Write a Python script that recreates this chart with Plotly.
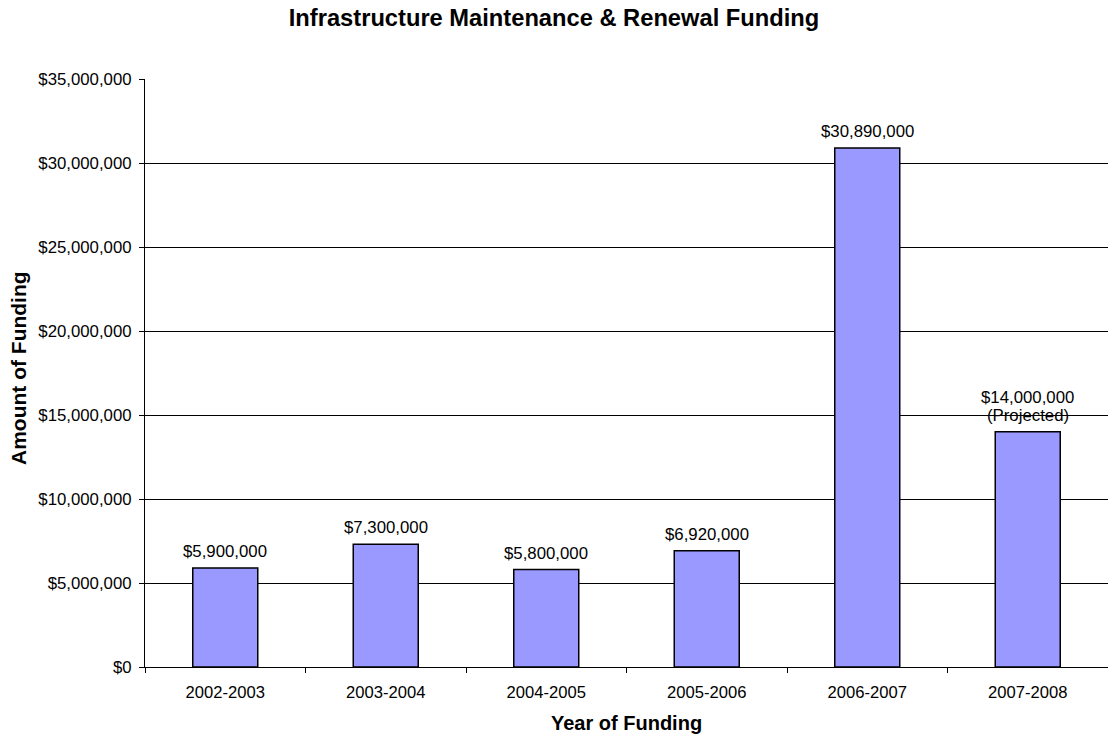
import plotly.graph_objects as go

years = ["2002-2003", "2003-2004", "2004-2005", "2005-2006", "2006-2007", "2007-2008"]
funding = [5900000, 7300000, 5800000, 6920000, 30890000, 14000000]
labels = ["$5,900,000", "$7,300,000", "$5,800,000", "$6,920,000", "$30,890,000", "$14,000,000<br>(Projected)"]
y_ticks = [0, 5000000, 10000000, 15000000, 20000000, 25000000, 30000000, 35000000]
y_tick_text = ["$0", "$5,000,000", "$10,000,000", "$15,000,000", "$20,000,000", "$25,000,000", "$30,000,000", "$35,000,000"]

font = "Liberation Sans, Arial, sans-serif"
W, H = 1108, 738
L, R, T, B = 145, 0, 79, 71
pw, ph = W - L - R, H - T - B

fig = go.Figure(go.Bar(
    x=years, y=funding,
    marker=dict(color="#9999FF", line=dict(color="black", width=1.5)),
    cliponaxis=False, hoverinfo="x+y",
))

annotations = []
for xv, yv, lab in zip(years, funding, labels):
    lines = lab.split("<br>")
    for i, line in enumerate(reversed(lines)):
        annotations.append(dict(
            text=line, x=xv, y=yv, xref="x", yref="y",
            xanchor="center", yanchor="bottom", yshift=5 + 18 * i,
            showarrow=False, font=dict(family=font, size=16.8, color="black")))

annotations += [
    dict(text="<b>Year of Funding</b>", xref="paper", yref="paper",
         x=0.5, y=-(723 - (H - B)) / ph, xanchor="center", yanchor="middle",
         showarrow=False, font=dict(family=font, size=20, color="black")),
    dict(text="<b>Amount of Funding</b>", xref="paper", yref="paper",
         x=(18 - L) / pw, y=(H - B - 368) / ph, xanchor="center", yanchor="middle",
         textangle=-90, showarrow=False,
         font=dict(family=font, size=21, color="black")),
]

fig.update_layout(
    width=W, height=H,
    margin=dict(l=L, r=R, t=T, b=B, autoexpand=False),
    paper_bgcolor="white", plot_bgcolor="white",
    bargap=0.595,
    showlegend=False,
    font=dict(family=font, size=16, color="black"),
    title=dict(text="<b>Infrastructure Maintenance & Renewal Funding</b>",
               x=0.5, xanchor="center", y=1 - 18 / H, yanchor="middle",
               font=dict(family=font, size=23.7, color="black")),
    annotations=annotations,
)

fig.update_xaxes(
    type="category", tickson="boundaries", ticks="outside", ticklen=5,
    tickcolor="black", showline=True, linecolor="black", linewidth=1,
    showgrid=False, automargin=False, ticklabelstandoff=10,
    tickfont=dict(family=font, size=16.6, color="black"),
)

fig.update_yaxes(
    range=[0, 35000000], tickvals=y_ticks, ticktext=y_tick_text,
    ticks="outside", ticklen=5, tickcolor="black",
    showline=True, linecolor="black", linewidth=1,
    showgrid=True, gridcolor="black", gridwidth=1,
    zeroline=False, automargin=False, ticklabelstandoff=4,
    tickfont=dict(family=font, size=16.8, color="black"),
)

fig.write_html("out.html", config={"displayModeBar": False},
               post_script="document.body.style.margin='0';")
